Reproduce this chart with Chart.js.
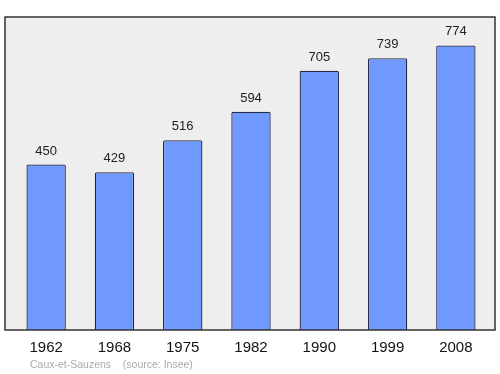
<!DOCTYPE html>
<html>
<head>
<meta charset="utf-8">
<script src="https://cdn.jsdelivr.net/npm/chart.js@4"></script>
<style>
  body { margin: 0; background: #fff; }
  #wrap { width: 500px; height: 374px; }
</style>
</head>
<body>
<div id="wrap"><canvas id="grafico"></canvas></div>
<script>
const annees = ['1962', '1968', '1975', '1982', '1990', '1999', '2008'];
const population = [450, 429, 516, 594, 705, 739, 774];
const source = 'Caux-et-Sauzens    (source: Insee)';

const fond = {
  id: 'fond',
  beforeDraw(chart) {
    const a = chart.chartArea, ctx = chart.ctx;
    ctx.save();
    ctx.fillStyle = '#eeeeee';
    ctx.fillRect(a.left - 7, a.top, a.right - a.left + 12, a.bottom - a.top);
    ctx.restore();
  },
  afterDatasetsDraw(chart) {
    const a = chart.chartArea, ctx = chart.ctx;
    ctx.save();
    ctx.strokeStyle = '#333';
    ctx.lineWidth = 1.5;
    ctx.strokeRect(a.left - 7, a.top, a.right - a.left + 12, a.bottom - a.top);

    // valeurs au-dessus des barres
    ctx.fillStyle = '#222';
    ctx.font = '13px "Liberation Sans", Arial, sans-serif';
    ctx.textAlign = 'center';
    ctx.textBaseline = 'alphabetic';
    chart.getDatasetMeta(0).data.forEach((bar, i) => {
      ctx.fillText(population[i], bar.x, bar.y - 10);
    });

    ctx.fillStyle = '#aaaaaa';
    ctx.font = '10.5px "Liberation Sans", Arial, sans-serif';
    ctx.textAlign = 'left';
    ctx.fillText(source, 30, 368);
    ctx.restore();
  }
};

new Chart(document.getElementById('grafico'), {
  type: 'bar',
  data: {
    labels: annees,
    datasets: [{
      data: population,
      backgroundColor: '#7099ff',
      borderColor: '#222a44',
      borderWidth: 1.3,
      borderRadius: 1.5,
      borderSkipped: 'bottom',
      categoryPercentage: 1,
      barPercentage: 0.577
    }]
  },
  options: {
    responsive: true,
    maintainAspectRatio: false,
    animation: false,
    layout: { padding: { left: 12, right: 10, top: 17, bottom: 0 } },
    plugins: { legend: { display: false }, tooltip: { enabled: false } },
    scales: {
      x: {
        grid: { display: false },
        border: { display: false },
        ticks: {
          color: '#111',
          font: { size: 15, family: '"Liberation Sans", Arial, sans-serif' },
          padding: 1
        },
        afterFit(s) { s.height = 44; }
      },
      y: { display: false, min: 0, max: 851.4 }
    }
  },
  plugins: [fond]
});
</script>
</body>
</html>
